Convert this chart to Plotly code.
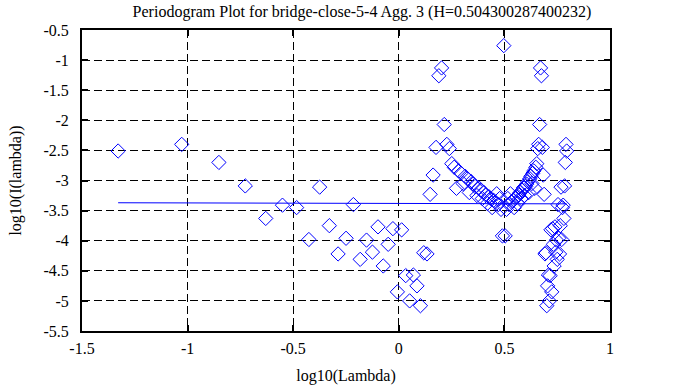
import plotly.graph_objects as go

# Title / hurst estimate
H = 0.504300287400232
fit_intercept = -3.381

# log10 of frequency (lower half, k = 1..67)
log_lambda_left = [
    -1.3289, -1.0279, -0.8518, -0.7269, -0.6300, -0.5508, -0.4838, -0.4258, -0.3747, -0.3289,
    -0.2875, -0.2498, -0.2150, -0.1828, -0.1528, -0.1248, -0.0985, -0.0737, -0.0502, -0.0279,
    -0.0067, 0.0135, 0.0328, 0.0513, 0.0690, 0.0860, 0.1024, 0.1182, 0.1335, 0.1482,
    0.1624, 0.1762, 0.1896, 0.2026, 0.2151, 0.2274, 0.2393, 0.2509, 0.2621, 0.2731,
    0.2839, 0.2943, 0.3045, 0.3145, 0.3243, 0.3338, 0.3432, 0.3523, 0.3613, 0.3700,
    0.3786, 0.3871, 0.3953, 0.4035, 0.4114, 0.4193, 0.4269, 0.4345, 0.4419, 0.4492,
    0.4564, 0.4635, 0.4704, 0.4773, 0.4840, 0.4906, 0.4971,
]
log_I_left = [
    -2.51, -2.40, -2.70, -3.09, -3.63, -3.41, -3.45, -3.98, -3.11, -3.75,
    -4.22, -3.96, -3.40, -4.31, -3.99, -4.19, -3.77, -4.42, -4.06, -3.80,
    -4.85, -3.82, -4.58, -5.00, -4.57, -4.75, -5.08, -4.20, -4.22, -3.23,
    -2.91, -2.45, -1.26, -1.13, -2.07, -2.40, -2.47, -2.72, -2.78, -3.13,
    -2.84, -2.88, -3.05, -2.93, -2.97, -3.20, -3.02, -3.06, -3.10, -3.25,
    -3.12, -3.16, -3.30, -3.20, -3.24, -3.38, -3.27, -3.30, -3.45, -3.33,
    -3.36, -3.22, -3.40, -3.30, -3.48, -3.92, -0.76,
]

# log10 of frequency (upper half, k = 68..133)
log_lambda_right = [
    0.5036, 0.5099, 0.5162, 0.5223, 0.5284, 0.5344, 0.5403, 0.5461, 0.5519, 0.5576,
    0.5632, 0.5687, 0.5742, 0.5796, 0.5849, 0.5901, 0.5953, 0.6005, 0.6056, 0.6106,
    0.6155, 0.6205, 0.6253, 0.6301, 0.6349, 0.6396, 0.6442, 0.6488, 0.6533, 0.6578,
    0.6623, 0.6667, 0.6711, 0.6754, 0.6797, 0.6839, 0.6881, 0.6923, 0.6964, 0.7005,
    0.7045, 0.7085, 0.7125, 0.7164, 0.7203, 0.7241, 0.7280, 0.7318, 0.7355, 0.7393,
    0.7430, 0.7466, 0.7503, 0.7539, 0.7574, 0.7610, 0.7645, 0.7680, 0.7714, 0.7749,
    0.7783, 0.7817, 0.7850, 0.7883, 0.7916, 0.7949,
]
log_I_right = [
    -3.92, -3.48, -3.30, -3.40, -3.22, -3.36, -3.33, -3.45, -3.30, -3.27,
    -3.38, -3.24, -3.20, -3.30, -3.16, -3.12, -3.25, -3.10, -3.06, -3.02,
    -3.20, -2.97, -2.93, -3.05, -2.88, -2.84, -3.13, -2.78, -2.72, -2.47,
    -2.40, -2.07, -1.13, -1.26, -2.45, -2.91, -3.23, -4.22, -4.20, -5.08,
    -4.75, -4.57, -5.00, -4.58, -3.82, -4.85, -3.80, -4.06, -4.42, -3.77,
    -4.19, -3.99, -4.31, -3.40, -3.96, -4.22, -3.75, -3.11, -3.98, -3.45,
    -3.41, -3.63, -3.09, -2.70, -2.40, -2.51,
]

x_ticks = [-1.5, -1, -0.5, 0, 0.5, 1]
x_tick_text = ["-1.5", "-1", "-0.5", "0", "0.5", "1"]
y_ticks = [-5.5, -5, -4.5, -4, -3.5, -3, -2.5, -2, -1.5, -1, -0.5]
y_tick_text = ["-5.5", "-5", "-4.5", "-4", "-3.5", "-3", "-2.5", "-2", "-1.5", "-1", "-0.5"]

xs = log_lambda_left + log_lambda_right
ys = log_I_left + log_I_right

slope = 1 - 2 * H
fit_x = [min(xs), max(xs)]
fit_y = [fit_intercept + slope * v for v in fit_x]

font_family = "Liberation Serif"

fig = go.Figure()
fig.add_trace(go.Scatter(
    x=xs, y=ys, mode="markers",
    marker=dict(symbol="diamond-open", size=11, color="#0000ff", line=dict(width=1, color="#0000ff")),
    showlegend=False, hoverinfo="skip",
))
fig.add_trace(go.Scatter(
    x=fit_x, y=fit_y, mode="lines",
    line=dict(color="#0000ff", width=1),
    showlegend=False, hoverinfo="skip",
))

axis_common = dict(
    showline=True, linecolor="black", linewidth=2, mirror="ticks",
    ticks="inside", ticklen=6, tickcolor="black", tickwidth=2,
    showgrid=True, gridcolor="black", gridwidth=1, griddash="8px,4px",
    zeroline=False, automargin=False,
    tickfont=dict(family=font_family, size=16, color="black"),
)

fig.update_layout(
    width=683, height=387,
    margin=dict(l=82, r=73, t=30, b=56),
    paper_bgcolor="white", plot_bgcolor="white",
    font=dict(family=font_family, color="black"),
    title=dict(
        text="Periodogram Plot for bridge-close-5-4 Agg. 3 (H=0.504300287400232)",
        font=dict(family=font_family, size=16, color="black"),
        x=0.530, xref="container", xanchor="center",
        y=1 - 11 / 387, yref="container", yanchor="middle",
    ),
    xaxis=dict(
        range=[-1.5, 1], tickvals=x_ticks, ticktext=x_tick_text,
        ticklabelstandoff=2,
        title=dict(text="log10(Lambda)", font=dict(family=font_family, size=16), standoff=14),
        **axis_common,
    ),
    yaxis=dict(
        range=[-5.5, -0.5], tickvals=y_ticks, ticktext=y_tick_text,
        ticklabelstandoff=8,
        title=dict(text="log10(I(lambda))", font=dict(family=font_family, size=16), standoff=18),
        **axis_common,
    ),
)

fig.write_html("out.html", config={"displayModeBar": False},
               post_script="document.body.style.margin='0';")
